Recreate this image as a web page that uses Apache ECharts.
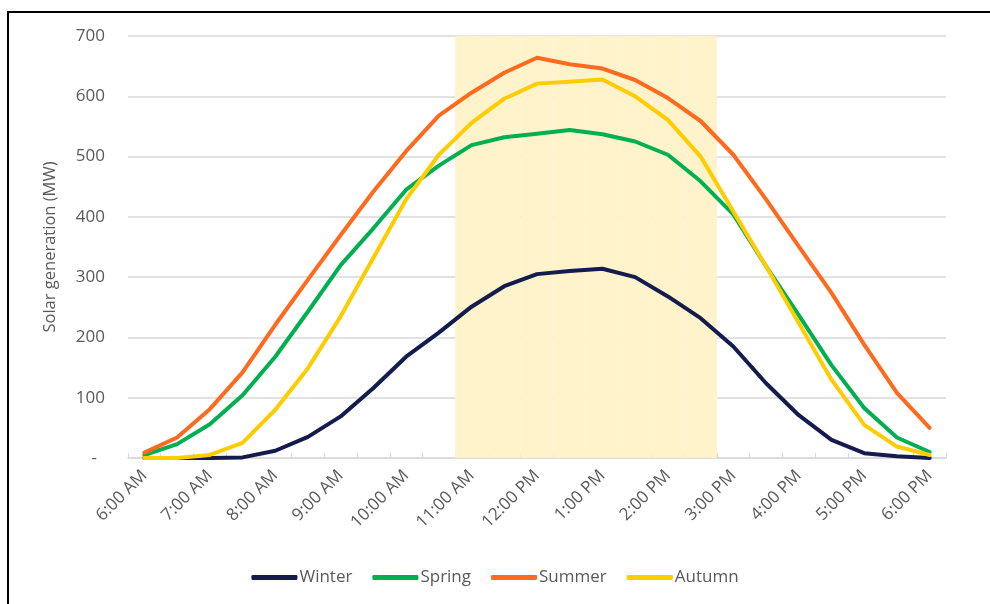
<!DOCTYPE html>
<html>
<head>
<meta charset="utf-8">
<script src="https://cdn.jsdelivr.net/npm/echarts@6/dist/echarts.min.js"></script>
<style>
  html, body { margin: 0; padding: 0; background: #ffffff; }
  #chart { width: 990px; height: 604px; }
</style>
</head>
<body>
<div id="chart"></div>
<script>
const categories = ['6:00 AM','6:30 AM','7:00 AM','7:30 AM','8:00 AM','8:30 AM','9:00 AM','9:30 AM',
  '10:00 AM','10:30 AM','11:00 AM','11:30 AM','12:00 PM','12:30 PM','1:00 PM','1:30 PM',
  '2:00 PM','2:30 PM','3:00 PM','3:30 PM','4:00 PM','4:30 PM','5:00 PM','5:30 PM','6:00 PM'];
const winter = [0,0,0,1,12,35,69,116,168,208,251,285,305,310,314,300,268,232,185,124,71,30,8,3,0];
const spring = [5,23,56,104,168,243,320,381,445,485,519,532,538,544,537,525,503,459,404,318,237,154,83,34,10];
const summer = [9,34,81,142,221,296,370,442,509,568,606,639,664,653,646,627,597,559,503,429,351,274,188,108,50];
const autumn = [0,0,5,25,80,149,235,332,429,503,556,596,621,624,628,600,561,500,409,318,224,130,55,19,5];
const shadeStart = '11:00 AM';
const shadeEnd = '2:30 PM';
const yMax = 700;

const s0 = categories.indexOf(shadeStart), s1 = categories.indexOf(shadeEnd);
const shadeData = categories.map((c, i) => (i >= s0 && i <= s1) ? yMax : null);

const font = 'Open Sans';
const grey = '#595959';
const shadeColor = '#FFF3CC';
const chart = echarts.init(document.getElementById('chart'));
const lineSeries = (name, data, color) => ({
  name, type: 'line', data, showSymbol: false, symbol: 'none',
  lineStyle: { color, width: 4, cap: 'round', join: 'round' },
  itemStyle: { color }, z: 3, animation: false
});
chart.setOption({
  animation: false,
  backgroundColor: '#ffffff',
  textStyle: { fontFamily: font },
  grid: { left: 128, right: 44, top: 36, bottom: 146 },
  legend: {
    data: ['Winter','Spring','Summer','Autumn'],
    bottom: 13, left: 'center',
    icon: 'roundRect', itemWidth: 46, itemHeight: 5, itemGap: 20,
    textStyle: { color: grey, fontSize: 17, fontFamily: font, padding: [0,0,0,-3] }
  },
  xAxis: {
    type: 'category', data: categories, boundaryGap: true,
    axisLine: { lineStyle: { color: '#d9d9d9', width: 1.5 } },
    axisTick: { show: true, inside: true, length: 5, interval: 0, lineStyle: { color: '#d9d9d9' } },
    axisLabel: { interval: 1, rotate: 45, color: grey, fontSize: 17, fontFamily: font, margin: 15 }
  },
  yAxis: {
    type: 'value', min: 0, max: yMax, interval: 100,
    name: 'Solar generation (MW)', nameLocation: 'middle', nameGap: 69,
    nameTextStyle: { color: grey, fontSize: 16.5, fontFamily: font },
    axisLine: { show: false }, axisTick: { show: false },
    splitLine: { lineStyle: { color: '#d9d9d9', width: 1.5 } },
    axisLabel: {
      color: grey, fontSize: 17, fontFamily: font, margin: 23,
      formatter: v => v === 0 ? '{d|-}' : String(v),
      rich: { d: { color: grey, fontSize: 17, fontFamily: font, padding: [0, 8, 0, 0] } }
    }
  },
  series: [
    { name: 'shade', type: 'bar', data: shadeData, barWidth: '100%', barGap: '-100%',
      itemStyle: { color: shadeColor, borderColor: shadeColor, borderWidth: 0.8 },
      z: 1, silent: true, animation: false },
    lineSeries('Winter', winter, '#141B4D'),
    lineSeries('Spring', spring, '#00B050'),
    lineSeries('Summer', summer, '#FF6A1F'),
    lineSeries('Autumn', autumn, '#FFCC00')
  ],
  graphic: [
    { type: 'line', shape: { x1: 7, y1: 12, x2: 990, y2: 12 }, style: { stroke: '#000', lineWidth: 2 }, silent: true },
    { type: 'line', shape: { x1: 8, y1: 11, x2: 8, y2: 604 }, style: { stroke: '#000', lineWidth: 2 }, silent: true }
  ]
});
</script>
</body>
</html>
